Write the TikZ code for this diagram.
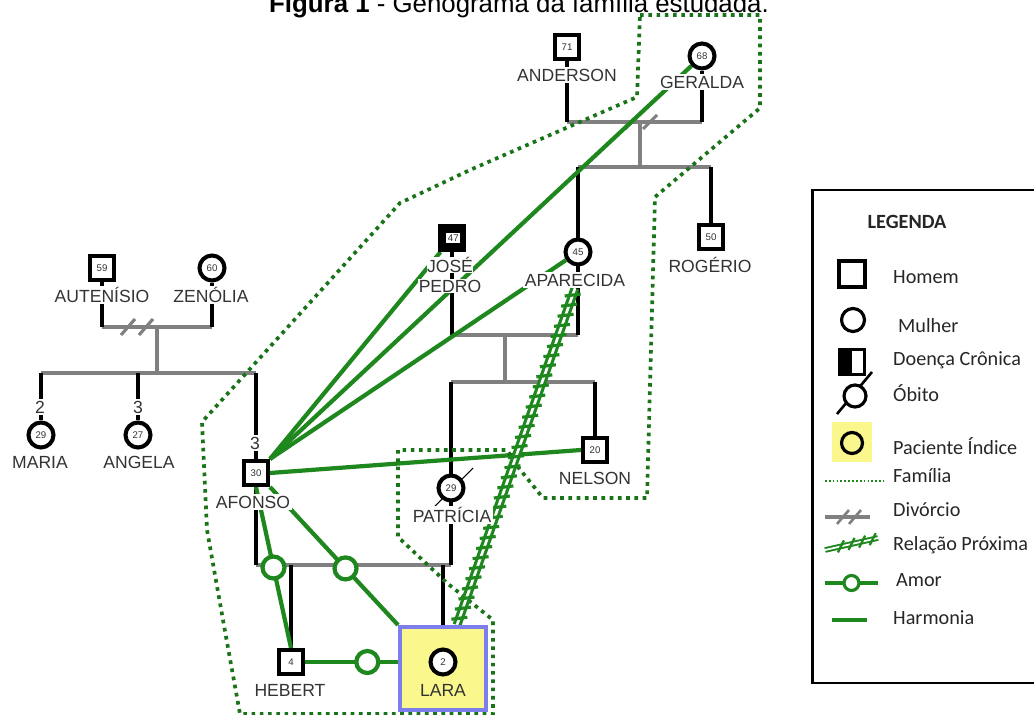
\documentclass[tikz,border=0pt]{standalone}
\usepackage{fontspec}
\setmainfont{Liberation Sans}
\newfontfamily\legfont{Carlito}
\usepackage{xcolor}
\usepackage{tikz}
\usetikzlibrary{calc, backgrounds}

\definecolor{verde}{RGB}{30,135,30}
\definecolor{cinza}{RGB}{128,128,128}
\definecolor{amarelo}{RGB}{250,248,140}
\definecolor{azul}{RGB}{125,125,235}

\tikzset{
    homem/.style={draw, line width=2.3pt, fill=white, minimum size=0.48cm, inner sep=0pt, text=black!80, font=\fontsize{5.5}{6}\selectfont},
    mulher/.style={homem, circle, minimum size=0.5cm},
    nome/.style={fill=white, inner sep=1pt, text=black!80, font=\fontsize{10}{12}\selectfont},
    linha/.style={line width=2.4pt},
    casal/.style={cinza, line width=2.3pt},
    harmonia/.style={verde, line width=2.4pt},
    amor/.style={circle, draw=verde, line width=2.4pt, fill=white, minimum size=0.44cm, inner sep=0pt},
    familia/.style={verde!85!black, line width=2.1pt, dash pattern=on 2.1pt off 2.6pt},
    proxima/.style={verde, line width=1.8pt, double=white, double distance=1.5pt},
    leg/.style={anchor=west, text=black!85, font=\legfont\fontsize{11.5}{13}\selectfont},
}

\begin{document}
\begin{tikzpicture}[x=0.02cm, y=-0.02cm]
    \useasboundingbox (0,0) rectangle (1034,715);

    % 1. Título
    \node[anchor=base, font=\fontsize{14.7}{16}\selectfont] (titulo) at (519,13) {\textbf{Figura 1} - Genograma da família estudada.};

    % 2. Pessoas
    \node[homem] (anderson) at (567,47) {71};
    \node[nome] (andersonTxt) at (567,75) {ANDERSON};
    \node[mulher] (geralda) at (702,56) {68};
    \node[nome] (geraldaTxt) at (702,82) {GERALDA};
    \node[mulher] (aparecida) at (578,252) {45};
    \node[nome] (aparecidaTxt) at (575,280) {APARECIDA};
    \node[homem] (rogerio) at (711,237) {50};
    \node[nome] (rogerioTxt) at (710,265) {ROGÉRIO};
    \node[homem, fill=black] (jose) at (452,238) {\hspace{1.5pt}\raisebox{1pt}{\setlength{\fboxsep}{0.9pt}\colorbox{white}{47}}};
    \node[nome, inner sep=0.3pt] (joseTxt) at (450,265) {JOSÉ};
    \node[nome, inner sep=0.3pt] (pedroTxt) at (450,286) {PEDRO};
    \node[mulher] (patricia) at (451,488) {29};
    \node[nome] (patriciaTxt) at (452,515) {PATRÍCIA};
    \node[homem] (nelson) at (595,450) {20};
    \node[nome] (nelsonTxt) at (595,478) {NELSON};
    \node[homem] (autenisio) at (102,268) {59};
    \node[nome] (autenisioTxt) at (102,295) {AUTENÍSIO};
    \node[mulher] (zenolia) at (212,268) {60};
    \node[nome] (zenoliaTxt) at (211,295) {ZENÓLIA};
    \node[mulher] (maria) at (41,435) {29};
    \node[nome] (mariaOrd) at (40,407) {2};
    \node[nome] (mariaTxt) at (40,462) {MARIA};
    \node[mulher] (angela) at (138,435) {27};
    \node[nome] (angelaOrd) at (138,407) {3};
    \node[nome] (angelaTxt) at (139,462) {ANGELA};
    \node[homem] (afonso) at (256,473) {30};
    \node[nome] (afonsoOrd) at (255,443) {3};
    \node[nome] (afonsoTxt) at (253,502) {AFONSO};
    \node[homem] (hebert) at (291,662) {4};
    \node[nome] (hebertTxt) at (290,690) {HEBERT};
    \node[draw=azul, fill=amarelo, line width=2.3pt, minimum width=1.72cm, minimum height=1.66cm] (laraBox) at (443,668.5) {};
    \node[mulher] (lara) at (443,662) {2};
    \node[nome, fill=none] (laraTxt) at (443,690) {LARA};

    \begin{scope}[on background layer]
        % 3. Casamentos e filhos
        \coordinate (ag) at (640,122);
        \coordinate (agf) at (640,167);
        \draw[casal] (anderson |- ag) -- (geralda |- ag);
        \draw[casal] (ag) -- (agf);
        \draw[casal] (aparecida |- agf) -- (rogerio |- agf);
        \draw[linha] (anderson) -- (anderson |- ag);
        \draw[linha] (geralda) -- (geralda |- ag);
        \draw[linha] (rogerio |- agf) -- (rogerio);
        \foreach \dx in {-8,10}
            \draw[casal, line width=1.8pt] ($(ag)+(\dx,0)+(-7,7)$) -- ++(14,-14);

        \coordinate (jp) at (505,335);
        \coordinate (jpf) at (505,382);
        \draw[casal] (jose |- jp) -- (aparecida |- jp);
        \draw[casal] (jp) -- (jpf);
        \draw[casal] (patricia |- jpf) -- (nelson |- jpf);
        \draw[linha] (aparecida |- agf) -- (aparecida |- jp);
        \draw[linha] (jose) -- (jose |- jp);
        \draw[linha] (nelson |- jpf) -- (nelson);

        \coordinate (az) at (157,327);
        \coordinate (azf) at (157,373);
        \draw[casal] (autenisio |- az) -- (zenolia |- az);
        \draw[casal] (az) -- (azf);
        \draw[casal] (maria |- azf) -- (afonso |- azf);
        \draw[linha] (autenisio) -- (autenisio |- az);
        \draw[linha] (zenolia) -- (zenolia |- az);
        \draw[linha] (maria |- azf) -- (maria);
        \draw[linha] (angela |- azf) -- (angela);
        \foreach \dx in {-29,-11}
            \draw[casal, line width=1.8pt] ($(az)+(\dx,0)+(-7,8)$) -- ++(14,-16);

        \coordinate (ap) at (350,565);
        \draw[casal] (afonso |- ap) -- (patricia |- ap);
        \draw[linha] (afonso |- azf) -- (afonso |- ap);
        \draw[linha] (patricia |- jpf) -- (patricia |- ap);
        \draw[linha] (hebert |- ap) -- (hebert);
        \draw[linha] (lara |- ap) -- (laraBox.north);
        \draw[line width=0.6pt] ($(patricia)+(-18,20)$) -- ($(patricia)+(22,-20)$);

        % 4. Relações
        \draw[harmonia] (afonso.north east) -- (geralda);
        \draw[harmonia] (afonso.north east) -- (jose);
        \draw[harmonia] (afonso.north east) -- (aparecida);
        \draw[harmonia] (afonso.east) -- (nelson.west);
        \draw[harmonia] (afonso.south) -- node[amor, pos=0.5] (amor1) {} (hebert.north);
        \draw[harmonia] (afonso.south east) -- node[amor, pos=0.59] (amor2) {} (laraBox.north west);
        \draw[harmonia] (hebert.east) -- node[amor, pos=0.67] (amor3) {} (hebert.east -| laraBox.west);

        % 5. Família
        \draw[familia] (640,15) -- (760,15) -- (760,108) -- (655,197) -- (647,498)
            -- (543,498) -- (518,467) -- (507,450) -- (398,450) -- (398,537)
            -- (447,583) -- (493,620) -- (493,714) -- (240,714) -- (223,620)
            -- (207,530) -- (202,422) -- (400,203) -- (470,170) -- (637,97) -- cycle;

        % 6. Relação próxima
        \coordinate (pA) at (aparecidaTxt.south);
        \coordinate (pB) at ($(laraBox.north)+(14,0)$);
        \draw[proxima] (pA) -- (pB);
        \foreach \t in {0.02,0.05,...,0.98}
            \draw[verde, line width=1.8pt] ($(pA)!\t!(pB)+(-8,1)$) -- ++(16,-2);
    \end{scope}

    % 7. Legenda
    \draw[line width=1.7pt] (1034,190) -- (812,190) -- (812,683) -- (1034,683);
    \node[font=\legfont\bfseries\fontsize{11.5}{13}\selectfont, text=black!85] (legenda) at (907,222) {LEGENDA};
    \node[draw, line width=1.8pt, minimum size=0.52cm, inner sep=0pt] (lgHomem) at (852,274) {};
    \node[circle, draw, line width=1.8pt, minimum size=0.46cm, inner sep=0pt] (lgMulher) at (853,320) {};
    \node[draw, line width=1.8pt, minimum size=0.5cm, inner sep=0pt, path picture={\fill (path picture bounding box.south west) rectangle (path picture bounding box.north);}] (lgDoenca) at (852,362) {};
    \draw[line width=1.5pt] (837,414) -- (872,372);
    \node[circle, draw, fill=white, line width=1.8pt, minimum size=0.44cm, inner sep=0pt] (lgObito) at (855,396) {};
    \node[fill=amarelo, minimum size=0.8cm] (lgPac) at (852,442) {};
    \node[circle, draw, line width=1.8pt, minimum size=0.42cm, inner sep=0pt] (lgPacC) at (852,443) {};
    \draw[verde, line width=1.3pt, dash pattern=on 1pt off 1.2pt] (825,481) -- (883,481);
    \draw[casal, line width=1.8pt] (825,517) -- (870,517);
    \foreach \dx in {843,855}
        \draw[casal, line width=1.5pt] (\dx-6,524) -- (\dx+6,510);
    \draw[proxima, line width=1.1pt, double distance=1pt] (825,550) -- (878,538);
    \foreach \t in {0.3,0.5,0.7,0.9}
        \draw[verde, line width=1.3pt] ($(825,550)!\t!(878,538)+(-3,6)$) -- ++(6,-12);
    \draw[harmonia, line width=1.8pt] (825,583) -- node[amor, minimum size=0.3cm, line width=1.8pt] (lgAmor) {} (878,583);
    \draw[harmonia, line width=1.8pt] (832,620) -- (867,620);
    \foreach \x/\y/\txt in {887/277/Homem, 892/326/Mulher, 887/360/Doença Crônica, 887/393/Óbito, 887/446/Paciente Índice, 887/476/Família, 887/510/Divórcio, 887/545/Relação Próxima, 890/580/Amor, 887/618/Harmonia}
        \node[leg] (leg\y) at (\x,\y) {\txt};
\end{tikzpicture}
\end{document}
